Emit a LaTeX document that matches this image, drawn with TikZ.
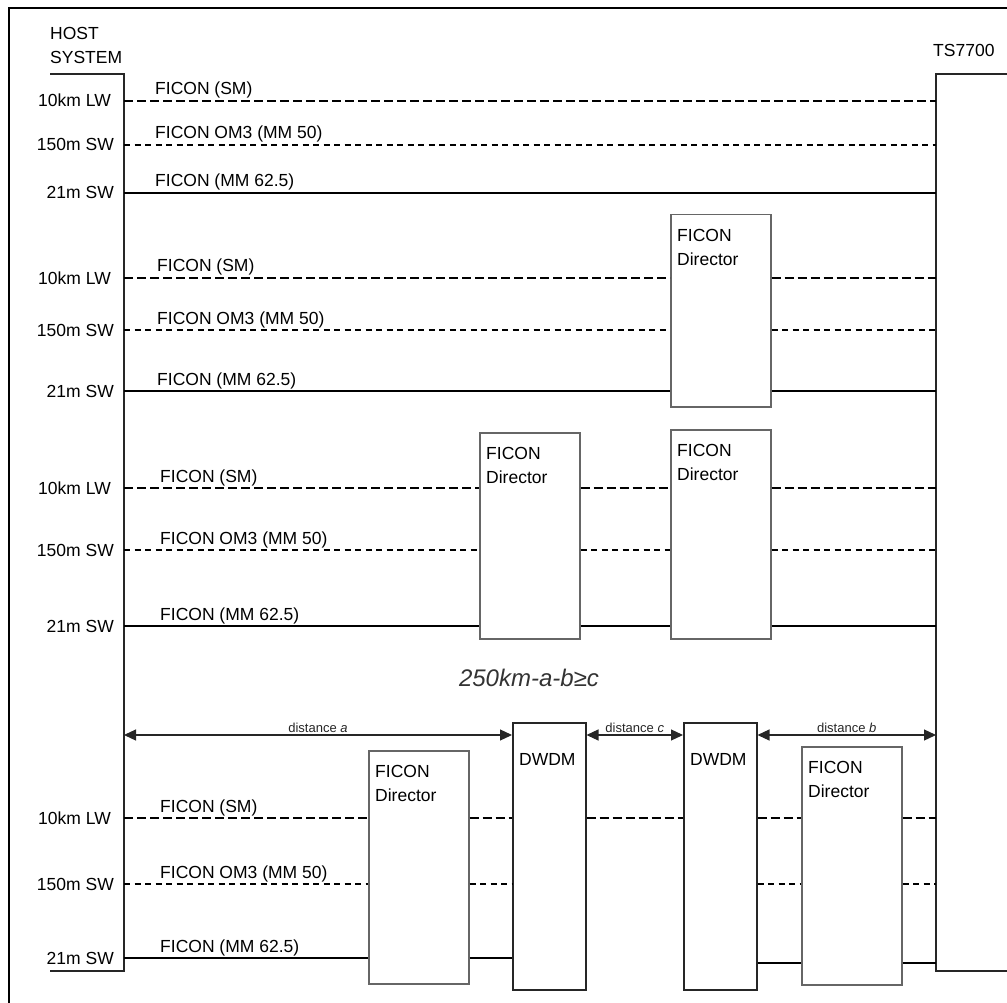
\documentclass[tikz,border=0pt]{standalone}
\usepackage{fontspec}
\setmainfont{Liberation Sans}
\usetikzlibrary{positioning,arrows.meta,calc}

\begin{document}
\begin{tikzpicture}[x=1pt, y={(0pt,-1pt)}, font=\fontsize{17.5}{24}\selectfont,
	lw/.style={line width=1.1pt, dash pattern=on 9pt off 4pt},
	sw/.style={line width=1.1pt, dash pattern=on 6pt off 4.5pt},
	mm/.style={line width=1.1pt},
	bar/.style={line width=1.5pt, black!85},
	fbox/.style={draw=black!60, line width=1.5pt, anchor=north west, inner sep=0pt, fill=white},
	dirbox/.style={fbox, minimum width=100pt,
		label={[anchor=north west, align=left, inner sep=0pt, xshift=7pt, yshift=-15pt]north west:FICON\\Director}},
	dwdm/.style={fbox, draw=black!85, minimum width=73pt, minimum height=267pt,
		label={[anchor=north west, inner sep=0pt, xshift=7pt, yshift=-31pt]north west:DWDM}},
	side/.style={anchor=base east, inner sep=0pt},
	cable/.style={anchor=base west, inner sep=0pt},
	dist/.style={{Triangle[length=12pt,width=11pt]}-{Triangle[length=12pt,width=11pt]}, line width=1.2pt, black!85},
	distlab/.style={above, inner sep=1.5pt, font=\fontsize{13}{15}\selectfont, black!85},
	]
	\useasboundingbox (0,0) rectangle (1007,1003);
	% frame
	\draw[line width=1.2pt] (9,1003) -- (9,8) -- (1007,8);
	% host system and TS7700
	\coordinate (hosttop) at (124,74);
	\coordinate (hostbot) at (124,971);
	\coordinate (tstop) at (936,74);
	\coordinate (tsbot) at (936,971);
	\draw[bar] (50,74) -- (hosttop) -- (hostbot) -- (50,971);
	\draw[bar] (1007,74) -- (tstop) -- (tsbot) -- (1007,971);
	\node[anchor=north west, align=left, inner sep=0pt] (host) at (50,27) {HOST\\SYSTEM};
	\node[anchor=base west, inner sep=0pt] (ts) at (933,57) {TS7700};
	% row coordinates on the host bar
	\coordinate (a1) at (124,101);
	\coordinate (a2) at (124,145);
	\coordinate (a3) at (124,193);
	\coordinate (b1) at (124,278);
	\coordinate (b2) at (124,330);
	\coordinate (b3) at (124,391);
	\coordinate (c1) at (124,488);
	\coordinate (c2) at (124,550);
	\coordinate (c3) at (124,626);
	\coordinate (d1) at (124,818);
	\coordinate (d2) at (124,884);
	\coordinate (d3) at (124,958);
	\coordinate (d3r) at (936,963);
	% labels of the rows
	\foreach \r/\dx in {a/31, b/33, c/36, d/36} {
		\node[side] at ($(\r1)+(-13,6)$) {10km LW};
		\node[side] at ($(\r2)+(-10,6)$) {150m SW};
		\node[side] at ($(\r3)+(-10,6)$) {21m SW};
		\node[cable] at ($(\r1)+(\dx,-6)$) {FICON (SM)};
		\node[cable] at ($(\r2)+(\dx,-6)$) {FICON OM3 (MM 50)};
		\node[cable] at ($(\r3)+(\dx,-6)$) {FICON (MM 62.5)};
	}
	% boxes
	\node[dirbox, minimum height=192pt] (dirB) at (670,214) {};
	\node[dirbox, minimum height=206pt] (dirC1) at (479,432) {};
	\node[dirbox, minimum height=209pt] (dirC2) at (670,429) {};
	\node[dirbox, minimum height=233pt] (dirD1) at (368,750) {};
	\node[dirbox, minimum height=238pt] (dirD2) at (801,746) {};
	\node[dwdm] (dw1) at (512,722) {};
	\node[dwdm] (dw2) at (683,722) {};
	% direct
	\draw[lw] (a1) -- (a1 -| tstop);
	\draw[sw] (a2) -- (a2 -| tstop);
	\draw[mm] (a3) -- (a3 -| tstop);
	% one director
	\draw[lw] (b1) -- (b1 -| dirB.west) (b1 -| dirB.east) -- (b1 -| tstop);
	\draw[sw] (b2) -- (b2 -| dirB.west) (b2 -| dirB.east) -- (b2 -| tstop);
	\draw[mm] (b3) -- (b3 -| dirB.west) (b3 -| dirB.east) -- (b3 -| tstop);
	% cascaded directors
	\draw[lw] (c1) -- (c1 -| dirC1.west) (c1 -| dirC1.east) -- (c1 -| dirC2.west)
		(c1 -| dirC2.east) -- (c1 -| tstop);
	\draw[sw] (c2) -- (c2 -| dirC1.west) (c2 -| dirC1.east) -- (c2 -| dirC2.west)
		(c2 -| dirC2.east) -- (c2 -| tstop);
	\draw[mm] (c3) -- (c3 -| dirC1.west) (c3 -| dirC1.east) -- (c3 -| dirC2.west)
		(c3 -| dirC2.east) -- (c3 -| tstop);
	% DWDM link
	\draw[lw] (d1) -- (d1 -| dirD1.west) (d1 -| dirD1.east) -- (d1 -| dw1.west)
		(d1 -| dw1.east) -- (d1 -| dw2.west) (d1 -| dw2.east) -- (d1 -| dirD2.west)
		(d1 -| dirD2.east) -- (d1 -| tstop);
	\draw[sw] (d2) -- (d2 -| dirD1.west) (d2 -| dirD1.east) -- (d2 -| dw1.west)
		(d2 -| dw2.east) -- (d2 -| dirD2.west) (d2 -| dirD2.east) -- (d2 -| tstop);
	\draw[mm] (d3) -- (d3 -| dirD1.west) (d3 -| dirD1.east) -- (d3 -| dw1.west)
		(d3r -| dw2.east) -- (d3r -| dirD2.west) (d3r -| dirD2.east) -- (d3r);
	% distances
	\coordinate (ar) at (124,735);
	\draw[dist] (ar) -- (ar -| dw1.west) node[midway, distlab] {distance \textit{a}};
	\draw[dist] (ar -| dw1.east) -- (ar -| dw2.west) node[midway, distlab] {distance \textit{c}};
	\draw[dist] (ar -| dw2.east) -- (ar -| tstop) node[midway, distlab] {distance \textit{b}};
	\node[font=\itshape\fontsize{24}{28}\selectfont, black!80] (rule) at (529,678) {250km-a-b≥c};
\end{tikzpicture}
\end{document}
